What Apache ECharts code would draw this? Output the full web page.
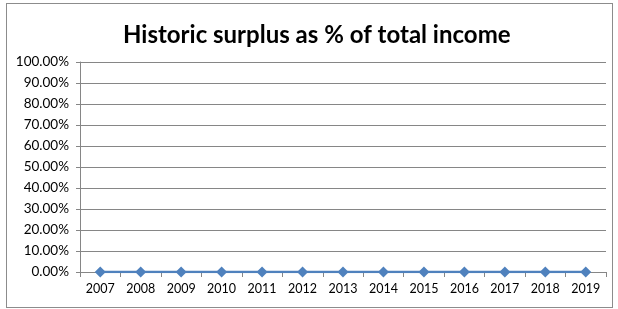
<!DOCTYPE html>
<html>
<head>
<meta charset="utf-8">
<script src="https://cdn.jsdelivr.net/npm/echarts@6/dist/echarts.min.js"></script>
<style>
  html, body { margin: 0; padding: 0; background: #fff; }
  #chart { width: 618px; height: 309px; }
  #frame { position: absolute; left: 6px; top: 3px; width: 605px; height: 303px; border: 1px solid #8c8c8c; pointer-events: none; }
</style>
</head>
<body>
<div id="chart"></div>
<div id="frame"></div>
<script>
  // data
  const years = ['2007', '2008', '2009', '2010', '2011', '2012', '2013', '2014', '2015', '2016', '2017', '2018', '2019'];
  const surplus = [0, 0, 0, 0, 0, 0, 0, 0, 0, 0, 0, 0, 0];

  const myChart = echarts.init(document.getElementById('chart'));
  myChart.setOption({
    animation: false,
    title: {
      text: 'Historic surplus as % of total income',
      left: 118,
      top: 18,
      textStyle: { fontFamily: 'Lato', fontWeight: 'bold', fontSize: 24, color: '#000' }
    },
    grid: { left: 80, right: 12, top: 62, bottom: 37 },
    xAxis: {
      type: 'category',
      data: years,
      boundaryGap: true,
      axisLine: { lineStyle: { color: '#868686' } },
      axisTick: { show: true, length: 5, lineStyle: { color: '#868686' } },
      axisLabel: { fontFamily: 'Lato', fontSize: 12.5, color: '#000', margin: 10 }
    },
    yAxis: {
      type: 'value',
      min: 0,
      max: 1,
      interval: 0.1,
      axisLine: { show: true, lineStyle: { color: '#868686' } },
      axisTick: { show: true, length: 4, lineStyle: { color: '#868686' } },
      axisLabel: {
        fontFamily: 'Lato', fontSize: 13.5, color: '#000', margin: 11,
        formatter: v => (v * 100).toFixed(2) + '%'
      },
      splitLine: { lineStyle: { color: '#868686' } }
    },
    series: [{
      type: 'line',
      data: surplus,
      symbol: 'diamond',
      symbolSize: 11,
      itemStyle: { color: '#4F81BD' },
      lineStyle: { color: '#4F81BD', width: 2.5 }
    }]
  });
</script>
</body>
</html>
